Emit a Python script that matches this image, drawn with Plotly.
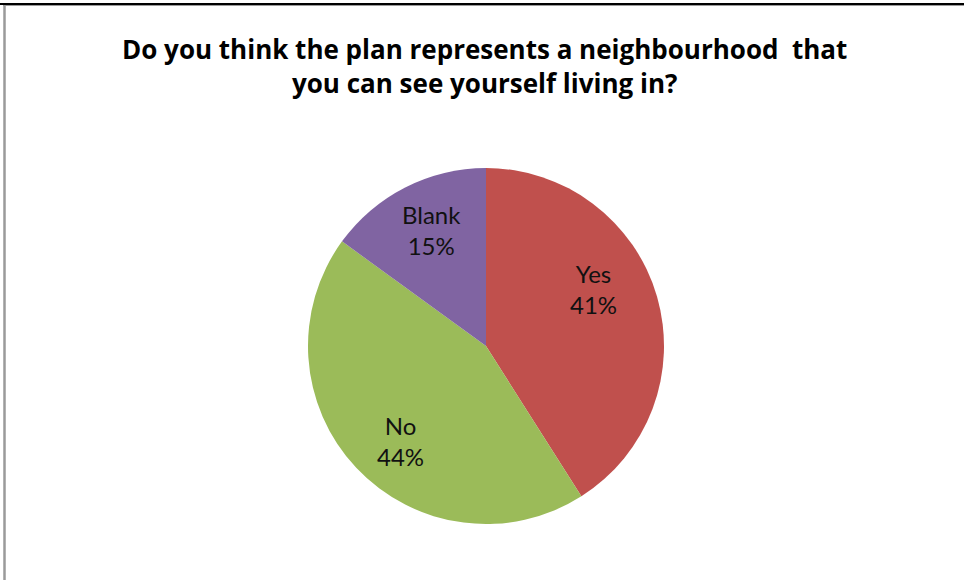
import plotly.graph_objects as go

# Survey answers and their shares (percent)
categories = ["Yes", "No", "Blank"]
shares = [41, 44, 15]
slice_colors = ["#C0504D", "#9BBB59", "#8064A2"]

W, H = 964, 580
LABEL_FONT = "Lato"
TITLE_FONT = "Open Sans"


def px_x(x):
    return x / W


def px_y(y):
    return 1 - y / H


# Pie geometry in pixels: centre and radius
cx, cy, r = 486, 346, 178

fig = go.Figure(
    go.Pie(
        labels=categories,
        values=shares,
        marker=dict(colors=slice_colors, line=dict(width=0)),
        sort=False,
        direction="clockwise",
        rotation=0,
        textinfo="none",
        hoverinfo="label+percent",
        showlegend=False,
        domain=dict(
            x=[px_x(cx - r), px_x(cx + r)],
            y=[px_y(cy + r), px_y(cy - r)],
        ),
    )
)

# Slice labels, placed inside each slice
label_pos = {"Yes": (593, 289), "No": (400, 441), "Blank": (431, 230)}
total = sum(shares)
annotations = []
for cat, val in zip(categories, shares):
    x, y = label_pos[cat]
    annotations.append(
        dict(
            x=px_x(x), y=px_y(y), xref="paper", yref="paper",
            xanchor="center", yanchor="middle", showarrow=False,
            text=f"{cat}<br>{round(val / total * 100)}%",
            font=dict(family=LABEL_FONT, size=24, color="#111111"),
        )
    )

# Chart title
annotations.append(
    dict(
        x=px_x(484), y=px_y(66), xref="paper", yref="paper",
        xanchor="center", yanchor="middle", showarrow=False,
        text="<b>Do you think the plan represents a neighbourhood&nbsp; that<br>you can see yourself living in?</b>",
        font=dict(family=TITLE_FONT, size=26, color="#000000"),
    )
)

# Frame lines along the top and left edges
shapes = [
    dict(type="line", xref="paper", yref="paper",
         x0=0, x1=1, y0=px_y(4), y1=px_y(4),
         line=dict(color="#000000", width=2)),
    dict(type="line", xref="paper", yref="paper",
         x0=px_x(3), x1=1, y0=px_y(5.5), y1=px_y(5.5),
         line=dict(color="#9a9a9a", width=1)),
    dict(type="line", xref="paper", yref="paper",
         x0=px_x(4.5), x1=px_x(4.5), y0=0, y1=px_y(5),
         line=dict(color="#9a9a9a", width=2.5)),
]

fig.update_layout(
    width=W, height=H,
    margin=dict(l=0, r=0, t=0, b=0),
    paper_bgcolor="#ffffff",
    plot_bgcolor="#ffffff",
    annotations=annotations,
    shapes=shapes,
)

fig.write_html("out.html")
